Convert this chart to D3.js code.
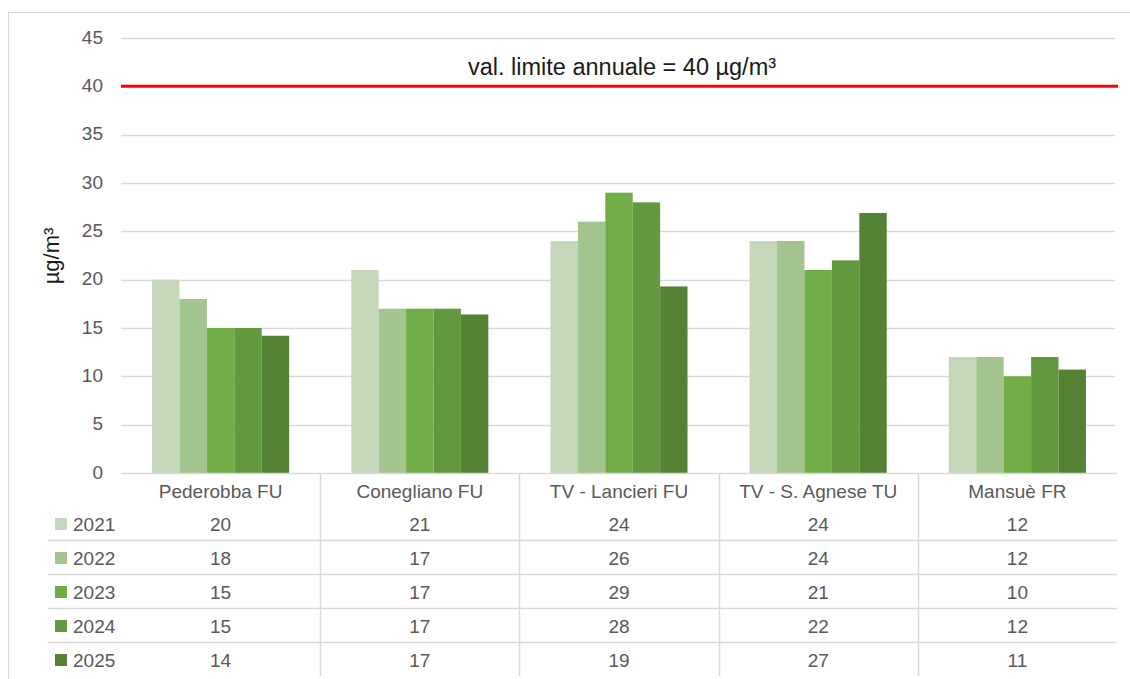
<!DOCTYPE html>
<html>
<head>
<meta charset="utf-8">
<script src="https://cdn.jsdelivr.net/npm/d3@7"></script>
<style>
  html, body { margin: 0; padding: 0; background: #fff; }
  svg { display: block; }
  text { font-family: "Liberation Sans", Arial, sans-serif; }
</style>
</head>
<body>
<svg id="chart" width="1130" height="679"></svg>
<script>
const categories = ["Pederobba FU", "Conegliano FU", "TV - Lancieri FU", "TV - S. Agnese TU", "Mansuè FR"];
const years = ["2021", "2022", "2023", "2024", "2025"];
const values2021 = [20, 21, 24, 24, 12];
const values2022 = [18, 17, 26, 24, 12];
const values2023 = [15, 17, 29, 21, 10];
const values2024 = [15, 17, 28, 22, 12];
const values2025 = [14.2, 16.4, 19.3, 26.9, 10.7];
const tableLabels2021 = ["20", "21", "24", "24", "12"];
const tableLabels2022 = ["18", "17", "26", "24", "12"];
const tableLabels2023 = ["15", "17", "29", "21", "10"];
const tableLabels2024 = ["15", "17", "28", "22", "12"];
const tableLabels2025 = ["14", "17", "19", "27", "11"];
const yTicks = [0, 5, 10, 15, 20, 25, 30, 35, 40, 45];
const limitValue = 40;
const limitLabel = "val. limite annuale = 40 µg/m³";
const yAxisTitle = "µg/m³";
const colors = ["#c5d7bb", "#a4c48f", "#70ad47", "#63993e", "#548235"];

const seriesValues = [values2021, values2022, values2023, values2024, values2025];
const seriesLabels = [tableLabels2021, tableLabels2022, tableLabels2023, tableLabels2024, tableLabels2025];

const svg = d3.select("#chart");
const plotLeft = 121, plotRight = 1117, plotTop = 38, plotBottom = 473;
const fs = 19;

// frame
svg.append("rect").attr("x", 8.5).attr("y", 12.5).attr("width", 1140).attr("height", 700)
  .attr("fill", "none").attr("stroke", "#d9d9d9").attr("stroke-width", 1);

const x = d3.scaleBand().domain(categories).range([plotLeft, plotRight]).paddingInner(0).paddingOuter(0);
const y = d3.scaleLinear().domain([0, 45]).range([plotBottom, plotTop]);
const groupWidth = x.bandwidth() * 0.688;
const xs = d3.scaleBand().domain(years).range([(x.bandwidth() - groupWidth) / 2, (x.bandwidth() + groupWidth) / 2]);

// gridlines
svg.append("g").selectAll("line").data(yTicks.filter(t => t !== 0 && t !== limitValue)).join("line")
  .attr("x1", plotLeft).attr("x2", plotRight - 2)
  .attr("y1", d => Math.round(y(d)) + 0.5).attr("y2", d => Math.round(y(d)) + 0.5)
  .attr("stroke", "#d9d9d9").attr("stroke-width", 1.3);

// y tick labels
svg.append("g").selectAll("text").data(yTicks).join("text")
  .attr("x", 103).attr("y", d => y(d) - 1).attr("dy", "0.35em")
  .attr("text-anchor", "end").attr("font-size", fs).attr("fill", "#595959")
  .text(d => d);

// bars
years.forEach((yr, si) => {
  svg.append("g").selectAll("rect").data(categories).join("rect")
    .attr("x", (c) => x(c) + xs(yr))
    .attr("y", (c, i) => y(seriesValues[si][i]))
    .attr("width", xs.bandwidth())
    .attr("height", (c, i) => y(0) - y(seriesValues[si][i]))
    .attr("fill", colors[si]);
});

// limit line
svg.append("line").attr("x1", plotLeft).attr("x2", plotRight + 1)
  .attr("y1", y(limitValue)).attr("y2", y(limitValue))
  .attr("stroke", "#ff0000").attr("stroke-width", 3);

svg.append("text").attr("x", 622).attr("y", 75).attr("text-anchor", "middle")
  .attr("font-size", 23.5).attr("fill", "#1a1a1a").text(limitLabel);

// y axis title
svg.append("text").attr("transform", "translate(59,256) rotate(-90)")
  .attr("text-anchor", "middle").attr("font-size", 22).attr("fill", "#1a1a1a").text(yAxisTitle);

// table
const rowLines = [540, 574, 608, 642];
const rowCenters = [524, 558, 592, 626, 660];
const g = svg.append("g");
g.append("line").attr("x1", plotLeft).attr("x2", plotRight).attr("y1", plotBottom + 0.5).attr("y2", plotBottom + 0.5)
  .attr("stroke", "#d9d9d9").attr("stroke-width", 1.5);
g.selectAll("line.row").data(rowLines).join("line").attr("class", "row")
  .attr("x1", 48).attr("x2", plotRight).attr("y1", d => d + 0.5).attr("y2", d => d + 0.5)
  .attr("stroke", "#d9d9d9").attr("stroke-width", 1.5);
g.selectAll("line.col").data(categories.slice(1)).join("line").attr("class", "col")
  .attr("x1", d => Math.round(x(d)) + 0.5).attr("x2", d => Math.round(x(d)) + 0.5)
  .attr("y1", plotBottom).attr("y2", 676)
  .attr("stroke", "#d9d9d9").attr("stroke-width", 1.5);

// category headers
g.selectAll("text.cat").data(categories).join("text").attr("class", "cat")
  .attr("x", d => x(d) + x.bandwidth() / 2).attr("y", 491).attr("dy", "0.35em")
  .attr("text-anchor", "middle").attr("font-size", fs).attr("fill", "#595959").text(d => d);

// legend keys + rows
years.forEach((yr, si) => {
  g.append("rect").attr("x", 55).attr("y", rowCenters[si] - 6).attr("width", 12).attr("height", 12).attr("fill", colors[si]);
  g.append("text").attr("x", 73).attr("y", rowCenters[si]).attr("dy", "0.35em")
    .attr("font-size", fs).attr("fill", "#595959").text(yr);
  g.append("g").selectAll("text").data(categories).join("text")
    .attr("x", d => x(d) + x.bandwidth() / 2).attr("y", rowCenters[si]).attr("dy", "0.35em")
    .attr("text-anchor", "middle").attr("font-size", fs).attr("fill", "#595959")
    .text((d, i) => seriesLabels[si][i]);
});
</script>
</body>
</html>
